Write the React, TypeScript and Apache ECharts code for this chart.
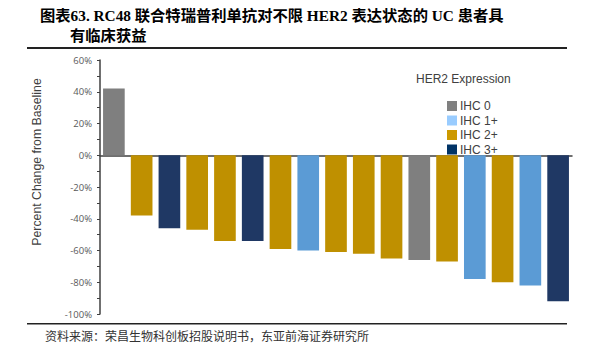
import React, { useEffect, useRef } from "react";
import * as echarts from "echarts";

const patients = ["P1","P2","P3","P4","P5","P6","P7","P8","P9","P10","P11","P12","P13","P14","P15","P16","P17"];
const changes = [42, -38, -46, -47, -54, -54, -59, -60, -61, -62, -65, -66, -67, -78, -80, -82, -92];
const her2 = ["IHC 0","IHC 2+","IHC 3+","IHC 2+","IHC 2+","IHC 3+","IHC 2+","IHC 1+","IHC 2+","IHC 2+","IHC 2+","IHC 0","IHC 2+","IHC 1+","IHC 2+","IHC 1+","IHC 3+"];
const groups = ["IHC 0", "IHC 1+", "IHC 2+", "IHC 3+"];
const barColors = ["#7F7F7F", "#5B9BD5", "#BF9000", "#1F3864"];
const legendColors = ["#808080", "#99CCFF", "#CC9900", "#003366"];
const yTicks = { min: -100, max: 60, interval: 20 };

export default function App() {
  const ref = useRef<HTMLDivElement>(null);
  useEffect(() => {
    if (!ref.current) return;
    const chart = echarts.init(ref.current, null, { renderer: "svg" });
    const series = groups.map((g, gi) => ({
      name: g,
      type: "bar",
      stack: "all",
      barCategoryGap: "22%",
      itemStyle: { color: barColors[gi] },
      data: changes.map((v, i) => (her2[i] === g ? v : "-")),
    }));
    chart.setOption({
      animation: false,
      grid: { left: 100, right: 22, top: 60, bottom: 42 },
      legend: {
        orient: "vertical",
        left: 442,
        top: 95,
        itemWidth: 10,
        itemHeight: 10,
        itemGap: 2.5,
        icon: "rect",
        textStyle: { fontFamily: "Liberation Sans, Arial", fontSize: 12, color: "#404040", padding: [0, 0, 0, -2], lineHeight: 10 },
        data: groups.map((g, gi) => ({ name: g, itemStyle: { color: legendColors[gi] } })),
      },
      xAxis: {
        type: "category",
        data: patients,
        axisLine: { onZero: true, lineStyle: { color: "#404040", width: 1.5 } },
        axisTick: { show: false },
        axisLabel: { show: false },
      },
      yAxis: {
        type: "value",
        min: yTicks.min,
        max: yTicks.max,
        interval: yTicks.interval,
        axisLine: { show: true, lineStyle: { color: "#404040", width: 1.5 } },
        axisTick: { show: true, length: 3, lineStyle: { color: "#404040" } },
        minorTick: { show: true, splitNumber: 2, length: 3, lineStyle: { color: "#404040" } },
        splitLine: { show: false },
        axisLabel: {
          formatter: (v: number) => v + "%",
          fontFamily: "Open Sans, Liberation Sans",
          fontSize: 9.5,
          color: "#595959",
          margin: 8,
        },
      },
      graphic: [
        {
          type: "text",
          left: 40,
          top: 8,
          style: {
            text: "图表63. RC48 联合特瑞普利单抗对不限 HER2 表达状态的 UC 患者具",
            font: "bold 15.3px 'Liberation Serif', 'Noto Sans CJK SC'",
            fill: "#000",
          },
        },
        {
          type: "text",
          left: 70,
          top: 28,
          style: {
            text: "有临床获益",
            font: "bold 15.3px 'Liberation Serif', 'Noto Sans CJK SC'",
            fill: "#000",
          },
        },
        { type: "rect", shape: { x: 27, y: 47, width: 540, height: 2 }, style: { fill: "#222" } },
        { type: "rect", shape: { x: 27, y: 323, width: 540, height: 1.5 }, style: { fill: "#222" } },
        {
          type: "text",
          left: 45,
          top: 331,
          style: {
            text: "资料来源：荣昌生物科创板招股说明书，东亚前海证券研究所",
            font: "12px 'Liberation Serif', 'Noto Sans CJK SC'",
            fill: "#333",
          },
        },
        {
          type: "text",
          x: 37,
          y: 162,
          rotation: Math.PI / 2,
          style: {
            text: "Percent Change from Baseline",
            font: "12.3px 'Liberation Sans', Arial",
            fill: "#404040",
            textAlign: "center",
            textVerticalAlign: "middle",
          },
        },
        {
          type: "text",
          left: 416,
          top: 73,
          style: {
            text: "HER2 Expression",
            font: "12px 'Liberation Sans', Arial",
            fill: "#404040",
          },
        },
      ],
      series,
    });
    return () => chart.dispose();
  }, []);
  return <div ref={ref} style={{ position: "fixed", left: 0, top: 0, width: 594, height: 356, background: "#fff" }} />;
}
